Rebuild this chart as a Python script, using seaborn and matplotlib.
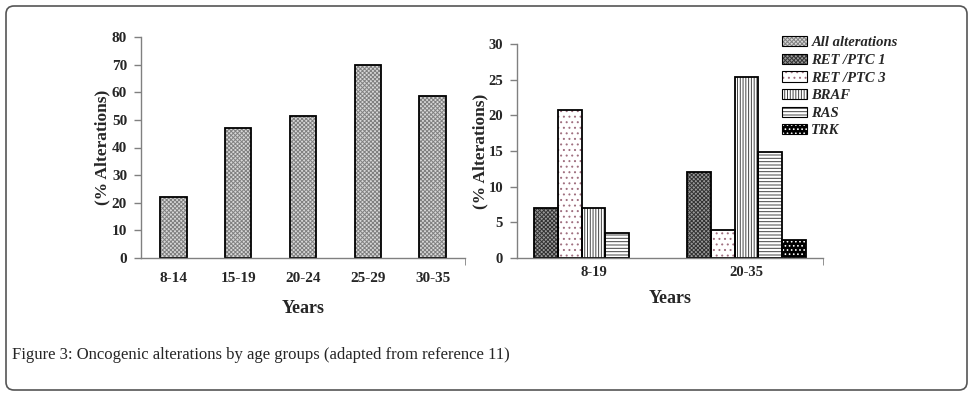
import pandas as pd
import matplotlib.pyplot as plt
import seaborn as sns
from matplotlib.patches import Patch, Rectangle, FancyBboxPatch
from matplotlib.legend_handler import HandlerTuple

# data
age_groups = ['8-14', '15-19', '20-24', '25-29', '30-35']
all_alterations = [22, 47, 51.5, 70, 58.5]

age_groups_2 = ['8-19', '20-35']
series_names = ['RET /PTC 1', 'RET /PTC 3', 'BRAF', 'RAS', 'TRK']
ret_ptc1 = [7, 12]
ret_ptc3 = [20.8, 3.9]
braf = [7, 25.4]
ras = [3.5, 14.8]
trk = [None, 2.5]

rows = []
for name, vals in zip(series_names, [ret_ptc1, ret_ptc3, braf, ras, trk]):
    for g, v in zip(age_groups_2, vals):
        if v is not None:
            rows.append({'Years': g, 'serie': name, 'valor': v})
df = pd.DataFrame(rows)

# (face, hatch, hatch colour) per series
estilos = {
    'All alterations': ('#d8d8d8', 'xxxxxxxx', '#808080'),
    'RET /PTC 1': ('#9a9a9a', 'xxxxxxxx', '#333333'),
    'RET /PTC 3': ('white', '...', '#a07080'),
    'BRAF': ('white', '||||||', '#444444'),
    'RAS': ('white', '-----', '#444444'),
    'TRK': ('black', '....', 'white'),
}

sns.set_style('white')
plt.rcParams['font.family'] = ['Liberation Serif', 'DejaVu Serif']
plt.rcParams['hatch.linewidth'] = 0.7

fig = plt.figure(figsize=(9.73, 3.96), dpi=100)
ax1 = fig.add_axes([141/973, 1-258/396, 324/973, 221/396])
ax2 = fig.add_axes([517/973, 1-258/396, 306/973, 214/396])


def pinta(ax, bar, nome):
    face, hatch, hc = estilos[nome]
    bar.set_facecolor(face)
    bar.set_hatch(hatch)
    bar.set_edgecolor(hc)
    bar.set_linewidth(0)
    ax.add_patch(Rectangle((bar.get_x(), bar.get_y()), bar.get_width(), bar.get_height(),
                           fill=False, edgecolor='black', lw=1.3, zorder=bar.get_zorder() + 0.1))


# grafico da esquerda
sns.barplot(x=age_groups, y=all_alterations, width=0.41, ax=ax1)
for bar in ax1.containers[0]:
    pinta(ax1, bar, 'All alterations')
ax1.set_ylim(0, 80)
ax1.set_yticks(range(0, 81, 10))

# grafico da direita
sns.barplot(data=df, x='Years', y='valor', hue='serie', hue_order=series_names,
            order=age_groups_2, width=0.78, ax=ax2)
for nome, cont in zip(series_names, ax2.containers):
    for bar in cont:
        pinta(ax2, bar, nome)
ax2.get_legend().remove()
ax2.set_ylim(0, 30)
ax2.set_yticks(range(0, 31, 5))

# (xlabel pad, ylabel pad, x tick pad, tick font size)
cfg = {ax1: (11, 1, 10, 11), ax2: (8, 0, 6, 10.5)}
for ax, (xlp, ylp, xtp, tfs) in cfg.items():
    for s in ['top', 'right']:
        ax.spines[s].set_visible(False)
    for s in ['left', 'bottom']:
        ax.spines[s].set_color('#808080')
        ax.spines[s].set_linewidth(1)
    ax.set_xlim(-0.5, len(ax.get_xticks()) - 0.5)
    ax.tick_params(axis='y', direction='out', length=5, color='#808080', width=1, left=True, pad=5)
    ax.tick_params(axis='x', length=0, pad=xtp)
    ax.set_xticks([len(ax.get_xticks()) - 0.5], minor=True)
    ax.tick_params(axis='x', which='minor', direction='out', length=5, color='#808080', bottom=True)
    for t in ax.get_xticklabels() + ax.get_yticklabels():
        t.set_fontweight('bold')
        t.set_fontsize(tfs)
    ax.set_xlabel('Years', fontsize=13, fontweight='bold', labelpad=xlp)
    ax.set_ylabel('(% Alterations)', fontsize=12.5, fontweight='bold', labelpad=ylp)

# legenda
handles = []
for nome in ['All alterations'] + series_names:
    face, hatch, hc = estilos[nome]
    handles.append((Patch(facecolor=face, hatch=hatch, edgecolor=hc, lw=0),
                    Patch(fill=False, edgecolor='black', lw=0.8)))
fig.legend(handles, ['All alterations'] + series_names, loc='upper left',
           bbox_to_anchor=(772/973, 1-26/396), frameon=False,
           handler_map={tuple: HandlerTuple(ndivide=1, pad=0)},
           prop={'weight': 'bold', 'style': 'italic', 'size': 10.5},
           handlelength=1.7, handleheight=0.7, labelspacing=0.3, handletextpad=0.3,
           borderpad=0.2)

# legenda da figura
fig.text(12/973, 1-355/396, 'Figure 3: Oncogenic alterations by age groups (adapted from reference 11)',
         fontsize=12, va='center', ha='left')

# moldura arredondada
fig.patches.append(FancyBboxPatch((0.06, 0.06), 9.61, 3.84, boxstyle='round,pad=0,rounding_size=0.08',
                                  transform=fig.dpi_scale_trans, fill=False,
                                  edgecolor='#555555', lw=1.2))

plt.savefig('out.png', dpi=100)
